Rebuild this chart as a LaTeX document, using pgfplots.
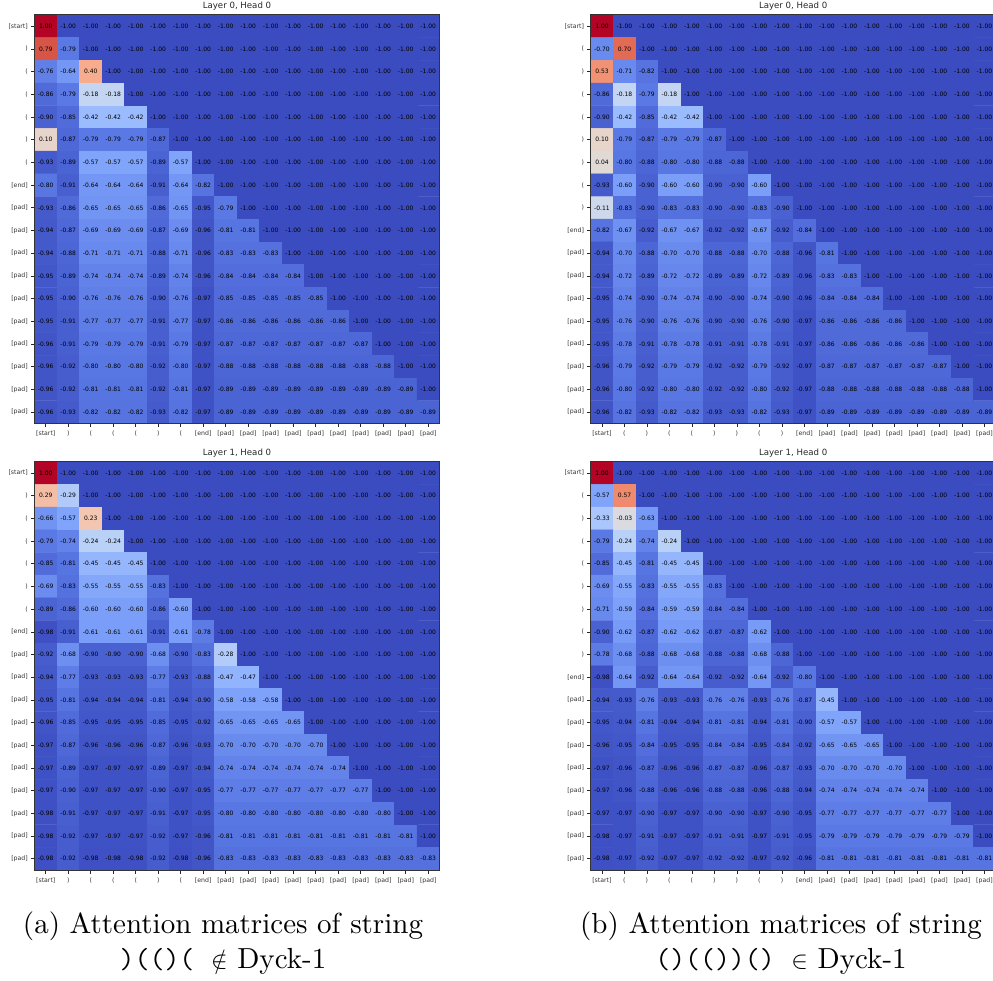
\documentclass[border=0pt]{standalone}
\usepackage{fontspec}
\usepackage{pgfplots}
\usepackage{pgfplotstable}
\pgfplotsset{compat=1.18}
\newfontfamily\dv{DejaVu Sans}
\newfontfamily\capf{lmroman10-regular.otf}
\DeclareMathSizes{29}{29}{20}{14}

\pgfplotstableread[row sep=\\]{z\\
1.00\\-1.00\\-1.00\\-1.00\\-1.00\\-1.00\\-1.00\\-1.00\\-1.00\\-1.00\\-1.00\\-1.00\\-1.00\\-1.00\\-1.00\\-1.00\\-1.00\\-1.00\\
0.79\\-0.79\\-1.00\\-1.00\\-1.00\\-1.00\\-1.00\\-1.00\\-1.00\\-1.00\\-1.00\\-1.00\\-1.00\\-1.00\\-1.00\\-1.00\\-1.00\\-1.00\\
-0.76\\-0.64\\0.40\\-1.00\\-1.00\\-1.00\\-1.00\\-1.00\\-1.00\\-1.00\\-1.00\\-1.00\\-1.00\\-1.00\\-1.00\\-1.00\\-1.00\\-1.00\\
-0.86\\-0.79\\-0.18\\-0.18\\-1.00\\-1.00\\-1.00\\-1.00\\-1.00\\-1.00\\-1.00\\-1.00\\-1.00\\-1.00\\-1.00\\-1.00\\-1.00\\-1.00\\
-0.90\\-0.85\\-0.42\\-0.42\\-0.42\\-1.00\\-1.00\\-1.00\\-1.00\\-1.00\\-1.00\\-1.00\\-1.00\\-1.00\\-1.00\\-1.00\\-1.00\\-1.00\\
0.10\\-0.87\\-0.79\\-0.79\\-0.79\\-0.87\\-1.00\\-1.00\\-1.00\\-1.00\\-1.00\\-1.00\\-1.00\\-1.00\\-1.00\\-1.00\\-1.00\\-1.00\\
-0.93\\-0.89\\-0.57\\-0.57\\-0.57\\-0.89\\-0.57\\-1.00\\-1.00\\-1.00\\-1.00\\-1.00\\-1.00\\-1.00\\-1.00\\-1.00\\-1.00\\-1.00\\
-0.80\\-0.91\\-0.64\\-0.64\\-0.64\\-0.91\\-0.64\\-0.82\\-1.00\\-1.00\\-1.00\\-1.00\\-1.00\\-1.00\\-1.00\\-1.00\\-1.00\\-1.00\\
-0.93\\-0.86\\-0.65\\-0.65\\-0.65\\-0.86\\-0.65\\-0.95\\-0.79\\-1.00\\-1.00\\-1.00\\-1.00\\-1.00\\-1.00\\-1.00\\-1.00\\-1.00\\
-0.94\\-0.87\\-0.69\\-0.69\\-0.69\\-0.87\\-0.69\\-0.96\\-0.81\\-0.81\\-1.00\\-1.00\\-1.00\\-1.00\\-1.00\\-1.00\\-1.00\\-1.00\\
-0.94\\-0.88\\-0.71\\-0.71\\-0.71\\-0.88\\-0.71\\-0.96\\-0.83\\-0.83\\-0.83\\-1.00\\-1.00\\-1.00\\-1.00\\-1.00\\-1.00\\-1.00\\
-0.95\\-0.89\\-0.74\\-0.74\\-0.74\\-0.89\\-0.74\\-0.96\\-0.84\\-0.84\\-0.84\\-0.84\\-1.00\\-1.00\\-1.00\\-1.00\\-1.00\\-1.00\\
-0.95\\-0.90\\-0.76\\-0.76\\-0.76\\-0.90\\-0.76\\-0.97\\-0.85\\-0.85\\-0.85\\-0.85\\-0.85\\-1.00\\-1.00\\-1.00\\-1.00\\-1.00\\
-0.95\\-0.91\\-0.77\\-0.77\\-0.77\\-0.91\\-0.77\\-0.97\\-0.86\\-0.86\\-0.86\\-0.86\\-0.86\\-0.86\\-1.00\\-1.00\\-1.00\\-1.00\\
-0.96\\-0.91\\-0.79\\-0.79\\-0.79\\-0.91\\-0.79\\-0.97\\-0.87\\-0.87\\-0.87\\-0.87\\-0.87\\-0.87\\-0.87\\-1.00\\-1.00\\-1.00\\
-0.96\\-0.92\\-0.80\\-0.80\\-0.80\\-0.92\\-0.80\\-0.97\\-0.88\\-0.88\\-0.88\\-0.88\\-0.88\\-0.88\\-0.88\\-0.88\\-1.00\\-1.00\\
-0.96\\-0.92\\-0.81\\-0.81\\-0.81\\-0.92\\-0.81\\-0.97\\-0.89\\-0.89\\-0.89\\-0.89\\-0.89\\-0.89\\-0.89\\-0.89\\-0.89\\-1.00\\
-0.96\\-0.93\\-0.82\\-0.82\\-0.82\\-0.93\\-0.82\\-0.97\\-0.89\\-0.89\\-0.89\\-0.89\\-0.89\\-0.89\\-0.89\\-0.89\\-0.89\\-0.89\\
}\tabAtop

\pgfplotstableread[row sep=\\]{z\\
1.00\\-1.00\\-1.00\\-1.00\\-1.00\\-1.00\\-1.00\\-1.00\\-1.00\\-1.00\\-1.00\\-1.00\\-1.00\\-1.00\\-1.00\\-1.00\\-1.00\\-1.00\\
0.29\\-0.29\\-1.00\\-1.00\\-1.00\\-1.00\\-1.00\\-1.00\\-1.00\\-1.00\\-1.00\\-1.00\\-1.00\\-1.00\\-1.00\\-1.00\\-1.00\\-1.00\\
-0.66\\-0.57\\0.23\\-1.00\\-1.00\\-1.00\\-1.00\\-1.00\\-1.00\\-1.00\\-1.00\\-1.00\\-1.00\\-1.00\\-1.00\\-1.00\\-1.00\\-1.00\\
-0.79\\-0.74\\-0.24\\-0.24\\-1.00\\-1.00\\-1.00\\-1.00\\-1.00\\-1.00\\-1.00\\-1.00\\-1.00\\-1.00\\-1.00\\-1.00\\-1.00\\-1.00\\
-0.85\\-0.81\\-0.45\\-0.45\\-0.45\\-1.00\\-1.00\\-1.00\\-1.00\\-1.00\\-1.00\\-1.00\\-1.00\\-1.00\\-1.00\\-1.00\\-1.00\\-1.00\\
-0.69\\-0.83\\-0.55\\-0.55\\-0.55\\-0.83\\-1.00\\-1.00\\-1.00\\-1.00\\-1.00\\-1.00\\-1.00\\-1.00\\-1.00\\-1.00\\-1.00\\-1.00\\
-0.89\\-0.86\\-0.60\\-0.60\\-0.60\\-0.86\\-0.60\\-1.00\\-1.00\\-1.00\\-1.00\\-1.00\\-1.00\\-1.00\\-1.00\\-1.00\\-1.00\\-1.00\\
-0.98\\-0.91\\-0.61\\-0.61\\-0.61\\-0.91\\-0.61\\-0.78\\-1.00\\-1.00\\-1.00\\-1.00\\-1.00\\-1.00\\-1.00\\-1.00\\-1.00\\-1.00\\
-0.92\\-0.68\\-0.90\\-0.90\\-0.90\\-0.68\\-0.90\\-0.83\\-0.28\\-1.00\\-1.00\\-1.00\\-1.00\\-1.00\\-1.00\\-1.00\\-1.00\\-1.00\\
-0.94\\-0.77\\-0.93\\-0.93\\-0.93\\-0.77\\-0.93\\-0.88\\-0.47\\-0.47\\-1.00\\-1.00\\-1.00\\-1.00\\-1.00\\-1.00\\-1.00\\-1.00\\
-0.95\\-0.81\\-0.94\\-0.94\\-0.94\\-0.81\\-0.94\\-0.90\\-0.58\\-0.58\\-0.58\\-1.00\\-1.00\\-1.00\\-1.00\\-1.00\\-1.00\\-1.00\\
-0.96\\-0.85\\-0.95\\-0.95\\-0.95\\-0.85\\-0.95\\-0.92\\-0.65\\-0.65\\-0.65\\-0.65\\-1.00\\-1.00\\-1.00\\-1.00\\-1.00\\-1.00\\
-0.97\\-0.87\\-0.96\\-0.96\\-0.96\\-0.87\\-0.96\\-0.93\\-0.70\\-0.70\\-0.70\\-0.70\\-0.70\\-1.00\\-1.00\\-1.00\\-1.00\\-1.00\\
-0.97\\-0.89\\-0.97\\-0.97\\-0.97\\-0.89\\-0.97\\-0.94\\-0.74\\-0.74\\-0.74\\-0.74\\-0.74\\-0.74\\-1.00\\-1.00\\-1.00\\-1.00\\
-0.97\\-0.90\\-0.97\\-0.97\\-0.97\\-0.90\\-0.97\\-0.95\\-0.77\\-0.77\\-0.77\\-0.77\\-0.77\\-0.77\\-0.77\\-1.00\\-1.00\\-1.00\\
-0.98\\-0.91\\-0.97\\-0.97\\-0.97\\-0.91\\-0.97\\-0.95\\-0.80\\-0.80\\-0.80\\-0.80\\-0.80\\-0.80\\-0.80\\-0.80\\-1.00\\-1.00\\
-0.98\\-0.92\\-0.97\\-0.97\\-0.97\\-0.92\\-0.97\\-0.96\\-0.81\\-0.81\\-0.81\\-0.81\\-0.81\\-0.81\\-0.81\\-0.81\\-0.81\\-1.00\\
-0.98\\-0.92\\-0.98\\-0.98\\-0.98\\-0.92\\-0.98\\-0.96\\-0.83\\-0.83\\-0.83\\-0.83\\-0.83\\-0.83\\-0.83\\-0.83\\-0.83\\-0.83\\
}\tabAbot

\pgfplotstableread[row sep=\\]{z\\
1.00\\-1.00\\-1.00\\-1.00\\-1.00\\-1.00\\-1.00\\-1.00\\-1.00\\-1.00\\-1.00\\-1.00\\-1.00\\-1.00\\-1.00\\-1.00\\-1.00\\-1.00\\
-0.70\\0.70\\-1.00\\-1.00\\-1.00\\-1.00\\-1.00\\-1.00\\-1.00\\-1.00\\-1.00\\-1.00\\-1.00\\-1.00\\-1.00\\-1.00\\-1.00\\-1.00\\
0.53\\-0.71\\-0.82\\-1.00\\-1.00\\-1.00\\-1.00\\-1.00\\-1.00\\-1.00\\-1.00\\-1.00\\-1.00\\-1.00\\-1.00\\-1.00\\-1.00\\-1.00\\
-0.86\\-0.18\\-0.79\\-0.18\\-1.00\\-1.00\\-1.00\\-1.00\\-1.00\\-1.00\\-1.00\\-1.00\\-1.00\\-1.00\\-1.00\\-1.00\\-1.00\\-1.00\\
-0.90\\-0.42\\-0.85\\-0.42\\-0.42\\-1.00\\-1.00\\-1.00\\-1.00\\-1.00\\-1.00\\-1.00\\-1.00\\-1.00\\-1.00\\-1.00\\-1.00\\-1.00\\
0.10\\-0.79\\-0.87\\-0.79\\-0.79\\-0.87\\-1.00\\-1.00\\-1.00\\-1.00\\-1.00\\-1.00\\-1.00\\-1.00\\-1.00\\-1.00\\-1.00\\-1.00\\
0.04\\-0.80\\-0.88\\-0.80\\-0.80\\-0.88\\-0.88\\-1.00\\-1.00\\-1.00\\-1.00\\-1.00\\-1.00\\-1.00\\-1.00\\-1.00\\-1.00\\-1.00\\
-0.93\\-0.60\\-0.90\\-0.60\\-0.60\\-0.90\\-0.90\\-0.60\\-1.00\\-1.00\\-1.00\\-1.00\\-1.00\\-1.00\\-1.00\\-1.00\\-1.00\\-1.00\\
-0.11\\-0.83\\-0.90\\-0.83\\-0.83\\-0.90\\-0.90\\-0.83\\-0.90\\-1.00\\-1.00\\-1.00\\-1.00\\-1.00\\-1.00\\-1.00\\-1.00\\-1.00\\
-0.82\\-0.67\\-0.92\\-0.67\\-0.67\\-0.92\\-0.92\\-0.67\\-0.92\\-0.84\\-1.00\\-1.00\\-1.00\\-1.00\\-1.00\\-1.00\\-1.00\\-1.00\\
-0.94\\-0.70\\-0.88\\-0.70\\-0.70\\-0.88\\-0.88\\-0.70\\-0.88\\-0.96\\-0.81\\-1.00\\-1.00\\-1.00\\-1.00\\-1.00\\-1.00\\-1.00\\
-0.94\\-0.72\\-0.89\\-0.72\\-0.72\\-0.89\\-0.89\\-0.72\\-0.89\\-0.96\\-0.83\\-0.83\\-1.00\\-1.00\\-1.00\\-1.00\\-1.00\\-1.00\\
-0.95\\-0.74\\-0.90\\-0.74\\-0.74\\-0.90\\-0.90\\-0.74\\-0.90\\-0.96\\-0.84\\-0.84\\-0.84\\-1.00\\-1.00\\-1.00\\-1.00\\-1.00\\
-0.95\\-0.76\\-0.90\\-0.76\\-0.76\\-0.90\\-0.90\\-0.76\\-0.90\\-0.97\\-0.86\\-0.86\\-0.86\\-0.86\\-1.00\\-1.00\\-1.00\\-1.00\\
-0.95\\-0.78\\-0.91\\-0.78\\-0.78\\-0.91\\-0.91\\-0.78\\-0.91\\-0.97\\-0.86\\-0.86\\-0.86\\-0.86\\-0.86\\-1.00\\-1.00\\-1.00\\
-0.96\\-0.79\\-0.92\\-0.79\\-0.79\\-0.92\\-0.92\\-0.79\\-0.92\\-0.97\\-0.87\\-0.87\\-0.87\\-0.87\\-0.87\\-0.87\\-1.00\\-1.00\\
-0.96\\-0.80\\-0.92\\-0.80\\-0.80\\-0.92\\-0.92\\-0.80\\-0.92\\-0.97\\-0.88\\-0.88\\-0.88\\-0.88\\-0.88\\-0.88\\-0.88\\-1.00\\
-0.96\\-0.82\\-0.93\\-0.82\\-0.82\\-0.93\\-0.93\\-0.82\\-0.93\\-0.97\\-0.89\\-0.89\\-0.89\\-0.89\\-0.89\\-0.89\\-0.89\\-0.89\\
}\tabBtop

\pgfplotstableread[row sep=\\]{z\\
1.00\\-1.00\\-1.00\\-1.00\\-1.00\\-1.00\\-1.00\\-1.00\\-1.00\\-1.00\\-1.00\\-1.00\\-1.00\\-1.00\\-1.00\\-1.00\\-1.00\\-1.00\\
-0.57\\0.57\\-1.00\\-1.00\\-1.00\\-1.00\\-1.00\\-1.00\\-1.00\\-1.00\\-1.00\\-1.00\\-1.00\\-1.00\\-1.00\\-1.00\\-1.00\\-1.00\\
-0.33\\-0.03\\-0.63\\-1.00\\-1.00\\-1.00\\-1.00\\-1.00\\-1.00\\-1.00\\-1.00\\-1.00\\-1.00\\-1.00\\-1.00\\-1.00\\-1.00\\-1.00\\
-0.79\\-0.24\\-0.74\\-0.24\\-1.00\\-1.00\\-1.00\\-1.00\\-1.00\\-1.00\\-1.00\\-1.00\\-1.00\\-1.00\\-1.00\\-1.00\\-1.00\\-1.00\\
-0.85\\-0.45\\-0.81\\-0.45\\-0.45\\-1.00\\-1.00\\-1.00\\-1.00\\-1.00\\-1.00\\-1.00\\-1.00\\-1.00\\-1.00\\-1.00\\-1.00\\-1.00\\
-0.69\\-0.55\\-0.83\\-0.55\\-0.55\\-0.83\\-1.00\\-1.00\\-1.00\\-1.00\\-1.00\\-1.00\\-1.00\\-1.00\\-1.00\\-1.00\\-1.00\\-1.00\\
-0.71\\-0.59\\-0.84\\-0.59\\-0.59\\-0.84\\-0.84\\-1.00\\-1.00\\-1.00\\-1.00\\-1.00\\-1.00\\-1.00\\-1.00\\-1.00\\-1.00\\-1.00\\
-0.90\\-0.62\\-0.87\\-0.62\\-0.62\\-0.87\\-0.87\\-0.62\\-1.00\\-1.00\\-1.00\\-1.00\\-1.00\\-1.00\\-1.00\\-1.00\\-1.00\\-1.00\\
-0.78\\-0.68\\-0.88\\-0.68\\-0.68\\-0.88\\-0.88\\-0.68\\-0.88\\-1.00\\-1.00\\-1.00\\-1.00\\-1.00\\-1.00\\-1.00\\-1.00\\-1.00\\
-0.98\\-0.64\\-0.92\\-0.64\\-0.64\\-0.92\\-0.92\\-0.64\\-0.92\\-0.80\\-1.00\\-1.00\\-1.00\\-1.00\\-1.00\\-1.00\\-1.00\\-1.00\\
-0.94\\-0.93\\-0.76\\-0.93\\-0.93\\-0.76\\-0.76\\-0.93\\-0.76\\-0.87\\-0.45\\-1.00\\-1.00\\-1.00\\-1.00\\-1.00\\-1.00\\-1.00\\
-0.95\\-0.94\\-0.81\\-0.94\\-0.94\\-0.81\\-0.81\\-0.94\\-0.81\\-0.90\\-0.57\\-0.57\\-1.00\\-1.00\\-1.00\\-1.00\\-1.00\\-1.00\\
-0.96\\-0.95\\-0.84\\-0.95\\-0.95\\-0.84\\-0.84\\-0.95\\-0.84\\-0.92\\-0.65\\-0.65\\-0.65\\-1.00\\-1.00\\-1.00\\-1.00\\-1.00\\
-0.97\\-0.96\\-0.87\\-0.96\\-0.96\\-0.87\\-0.87\\-0.96\\-0.87\\-0.93\\-0.70\\-0.70\\-0.70\\-0.70\\-1.00\\-1.00\\-1.00\\-1.00\\
-0.97\\-0.96\\-0.88\\-0.96\\-0.96\\-0.88\\-0.88\\-0.96\\-0.88\\-0.94\\-0.74\\-0.74\\-0.74\\-0.74\\-0.74\\-1.00\\-1.00\\-1.00\\
-0.97\\-0.97\\-0.90\\-0.97\\-0.97\\-0.90\\-0.90\\-0.97\\-0.90\\-0.95\\-0.77\\-0.77\\-0.77\\-0.77\\-0.77\\-0.77\\-1.00\\-1.00\\
-0.98\\-0.97\\-0.91\\-0.97\\-0.97\\-0.91\\-0.91\\-0.97\\-0.91\\-0.95\\-0.79\\-0.79\\-0.79\\-0.79\\-0.79\\-0.79\\-0.79\\-1.00\\
-0.98\\-0.97\\-0.92\\-0.97\\-0.97\\-0.92\\-0.92\\-0.97\\-0.92\\-0.96\\-0.81\\-0.81\\-0.81\\-0.81\\-0.81\\-0.81\\-0.81\\-0.81\\
}\tabBbot

\pgfplotsset{
  labelsA/.style={
    xticklabels={{[start]},{)},{(},{(},{(},{)},{(},{[end]},{[pad]},{[pad]},{[pad]},{[pad]},{[pad]},{[pad]},{[pad]},{[pad]},{[pad]},{[pad]}},
    yticklabels={{[start]},{)},{(},{(},{(},{)},{(},{[end]},{[pad]},{[pad]},{[pad]},{[pad]},{[pad]},{[pad]},{[pad]},{[pad]},{[pad]},{[pad]}}},
  labelsB/.style={
    xticklabels={{[start]},{(},{)},{(},{(},{)},{)},{(},{)},{[end]},{[pad]},{[pad]},{[pad]},{[pad]},{[pad]},{[pad]},{[pad]},{[pad]}},
    yticklabels={{[start]},{(},{)},{(},{(},{)},{)},{(},{)},{[end]},{[pad]},{[pad]},{[pad]},{[pad]},{[pad]},{[pad]},{[pad]},{[pad]}}},
  heat/.style={
    scale only axis, width=405pt, height=408.4pt,
    anchor=north west,
    xmin=-0.5, xmax=17.5, ymin=-0.5, ymax=17.5,
    y dir=reverse,
    xtick={0,...,17}, ytick={0,...,17},
    xtick pos=lower, xticklabel pos=lower,
    ytick pos=left, yticklabel pos=left,
    tick align=outside,
    major tick length=3.5pt,
    tick style={black!85, line width=0.7pt},
    axis line style={black!80, line width=1pt},
    ticklabel style={font=\dv\fontsize{6.2}{7}\selectfont, text=black!80},
    xticklabel style={inner sep=0pt, anchor=north, yshift=-4pt},
    yticklabel style={inner sep=0pt, xshift=-3pt},
    title style={font=\dv\fontsize{8.6}{10}\selectfont, text=black!85, inner sep=0pt, yshift=-1.5pt},
    colormap={coolwarm}{
      rgb255(0)=(59,76,192) rgb255(1)=(89,119,227) rgb255(2)=(123,159,249)
      rgb255(3)=(158,190,255) rgb255(4)=(192,212,245) rgb255(5)=(221,220,220)
      rgb255(6)=(242,203,183) rgb255(7)=(247,172,142) rgb255(8)=(238,132,104)
      rgb255(9)=(214,82,68) rgb255(10)=(180,4,38)},
    point meta min=-1, point meta max=1,
    axis on top,
  }
}
\newcommand{\panel}[5]{%
  \begin{axis}[heat, at={(#1pt,#2pt)}, title={#3}, #4]
    \addplot[matrix plot*, mesh/cols=18, point meta=explicit]
      table[x index=0, y index=0, x expr={\coordindex-18*int((\coordindex+0.5)/18)}, y expr={int((\coordindex+0.5)/18)}, meta index=0] {#5};
    \addplot[draw=none, mark=none, point meta=explicit symbolic,
      nodes near coords={\pgfplotspointmeta},
      every node near coord/.style={anchor=center, inner sep=0pt, text=black,
        font=\dv\fontsize{6}{7}\selectfont}]
      table[x index=0, y index=0, x expr={\coordindex-18*int((\coordindex+0.5)/18)}, y expr={int((\coordindex+0.5)/18)}, meta index=0] {#5};
  \end{axis}}

\begin{document}
\begin{tikzpicture}
\path[use as bounding box] (0,0) rectangle (993pt,981pt);
\clip (0,0) rectangle (993pt,981pt);
\panel{34.5}{966}{Layer 0, Head 0}{labelsA}{\tabAtop}
\panel{590.7}{966}{Layer 0, Head 0}{labelsB}{\tabBtop}
\panel{34.5}{519.3}{Layer 1, Head 0}{labelsA}{\tabAbot}
\panel{590.7}{519.3}{Layer 1, Head 0}{labelsB}{\tabBbot}
\node[align=center, inner sep=0pt, anchor=center, font=\capf\fontsize{29}{35}\selectfont] at (223pt,37.5pt)
  {(a) Attention matrices of string\\ \texttt{)(()(}\hspace{7pt} $\notin$ Dyck-1};
\node[align=center, inner sep=0pt, anchor=center, font=\capf\fontsize{29}{35}\selectfont] at (781pt,37.5pt)
  {(b) Attention matrices of string\\ \texttt{()(())()}\hspace{7pt} $\in$ Dyck-1};
\end{tikzpicture}
\end{document}
